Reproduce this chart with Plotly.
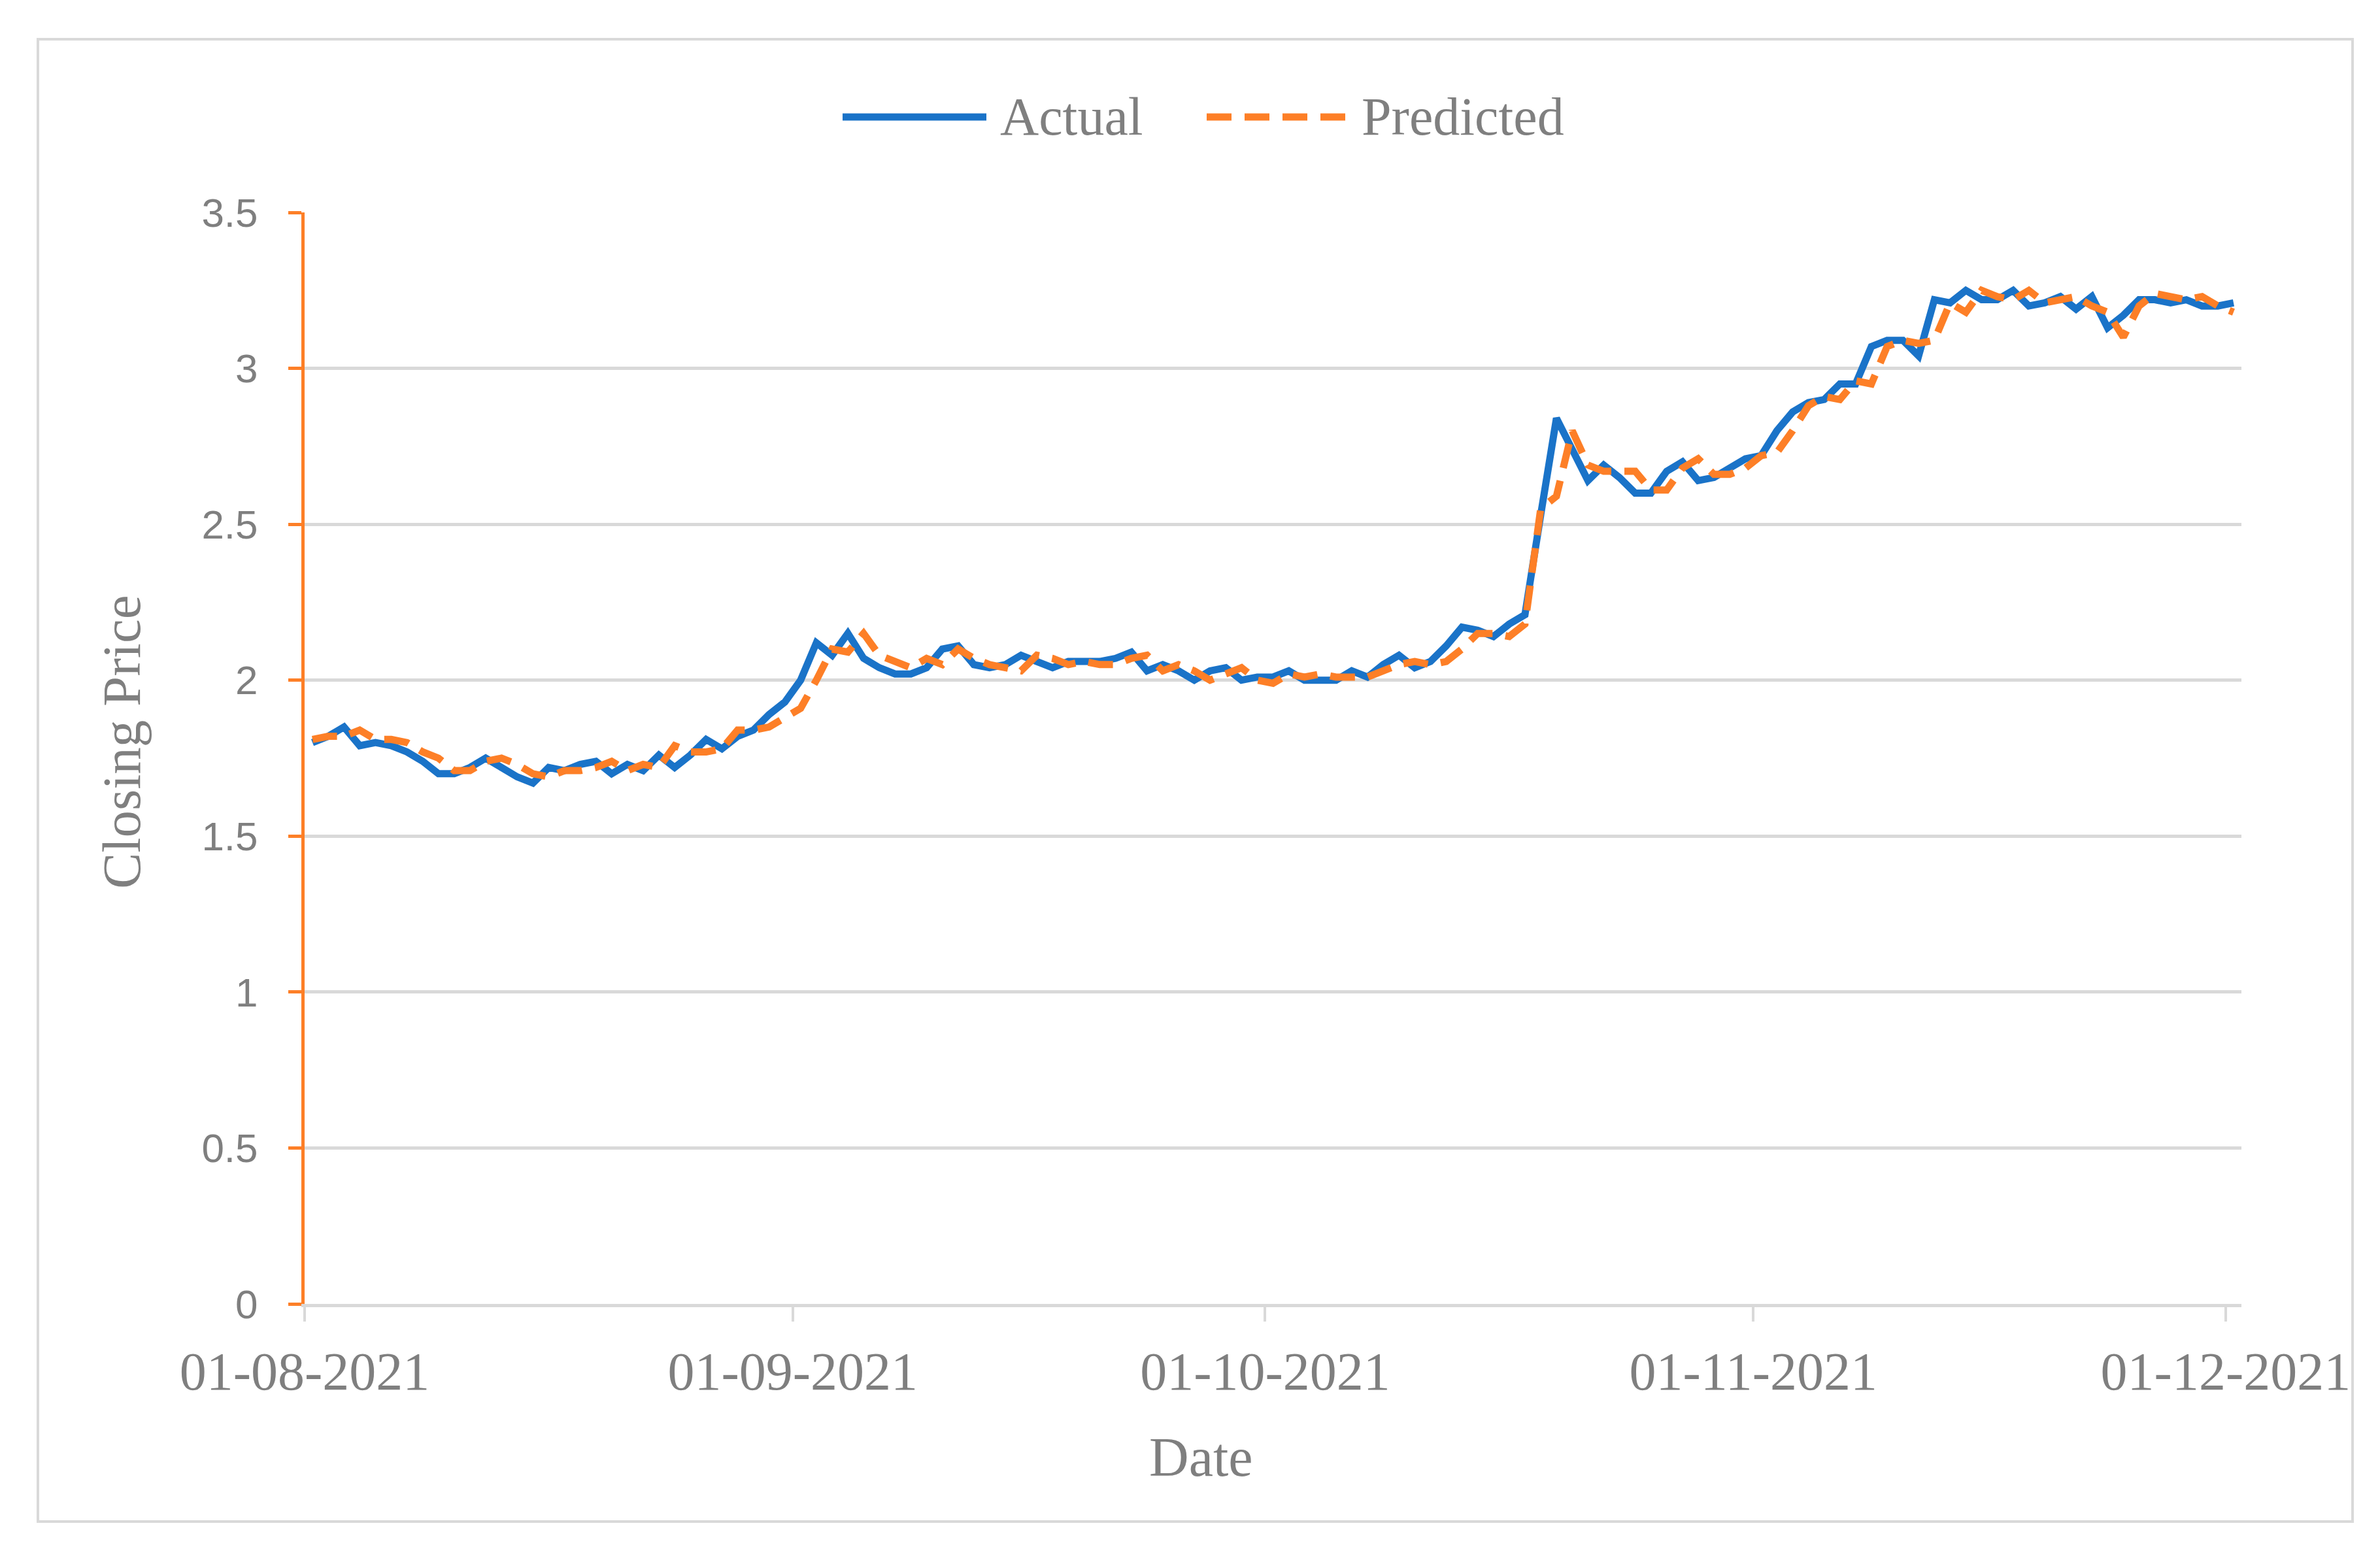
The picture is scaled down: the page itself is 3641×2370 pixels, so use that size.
import pandas as pd
import plotly.graph_objects as go

# ---------------- data ----------------
start_date = "2021-08-01"
actual = [
    1.80, 1.82, 1.85, 1.79, 1.80, 1.79, 1.77, 1.74, 1.70, 1.70,
    1.72, 1.75, 1.72, 1.69, 1.67, 1.72, 1.71, 1.73, 1.74, 1.70,
    1.73, 1.71, 1.76, 1.72, 1.76, 1.81, 1.78, 1.82, 1.84, 1.89,
    1.93, 2.00, 2.12, 2.08, 2.15, 2.07, 2.04, 2.02, 2.02, 2.04,
    2.10, 2.11, 2.05, 2.04, 2.05, 2.08, 2.06, 2.04, 2.06, 2.06,
    2.06, 2.07, 2.09, 2.03, 2.05, 2.03, 2.00, 2.03, 2.04, 2.00,
    2.01, 2.01, 2.03, 2.00, 2.00, 2.00, 2.03, 2.01, 2.05, 2.08,
    2.04, 2.06, 2.11, 2.17, 2.16, 2.14, 2.18, 2.21, 2.53, 2.84,
    2.74, 2.64, 2.69, 2.65, 2.60, 2.60, 2.67, 2.70, 2.64, 2.65,
    2.68, 2.71, 2.72, 2.80, 2.86, 2.89, 2.90, 2.95, 2.95, 3.07,
    3.09, 3.09, 3.04, 3.22, 3.21, 3.25, 3.22, 3.22, 3.25, 3.20,
    3.21, 3.23, 3.19, 3.23, 3.13, 3.17, 3.22, 3.22, 3.21, 3.22,
    3.20, 3.20, 3.21,
]
predicted = [
    1.81, 1.82, 1.82, 1.84, 1.81, 1.81, 1.80, 1.77, 1.75, 1.71,
    1.71, 1.74, 1.75, 1.73, 1.70, 1.69, 1.71, 1.71, 1.72, 1.74,
    1.71, 1.73, 1.72, 1.79, 1.77, 1.77, 1.78, 1.84, 1.84, 1.85,
    1.88, 1.91, 2.00, 2.10, 2.09, 2.15, 2.08, 2.06, 2.04, 2.07,
    2.05, 2.10, 2.07, 2.05, 2.04, 2.03, 2.08, 2.07, 2.05, 2.06,
    2.05, 2.05, 2.07, 2.08, 2.03, 2.05, 2.03, 2.00, 2.02, 2.04,
    2.00, 1.99, 2.02, 2.01, 2.02, 2.01, 2.01, 2.01, 2.03, 2.05,
    2.06, 2.05, 2.06, 2.10, 2.15, 2.15, 2.14, 2.18, 2.55, 2.59,
    2.80, 2.69, 2.67, 2.67, 2.67, 2.61, 2.61, 2.68, 2.71, 2.66,
    2.66, 2.68, 2.72, 2.73, 2.80, 2.88, 2.91, 2.90, 2.96, 2.95,
    3.07, 3.09, 3.08, 3.09, 3.21, 3.18, 3.25, 3.23, 3.22, 3.25,
    3.21, 3.22, 3.23, 3.20, 3.18, 3.10, 3.20, 3.24, 3.23, 3.22,
    3.23, 3.20, 3.18,
]
dates = pd.date_range(start_date, periods=len(actual), freq="D")
series_names = ["Actual", "Predicted"]
x_range = ["2021-08-01", "2021-12-02"]
y_ticks = [0, 0.5, 1, 1.5, 2, 2.5, 3, 3.5]

# ---------------- style ----------------
BLUE = "#1A73C8"
ORANGE = "#FD7F27"
GRID = "#D9D9D9"
TXT = "#7F7F7F"
SERIF = "Liberation Serif, Times New Roman, serif"
SANS = "Liberation Sans, Arial, sans-serif"
DASH = "38px,20px"

W, H = 3641, 2370
L, R, T, B = 466, 212, 325, 375
PW, PH = W - L - R, H - T - B


def px_x(p):
    return (p - L) / PW


def px_y(p):
    return (H - B - p) / PH


fig = go.Figure()
fig.add_trace(go.Scatter(
    x=dates, y=actual, name=series_names[0], mode="lines",
    xperiod=86400000, xperiodalignment="middle",
    line=dict(color=BLUE, width=11), showlegend=False,
))
fig.add_trace(go.Scatter(
    x=dates, y=predicted, name=series_names[1], mode="lines",
    xperiod=86400000, xperiodalignment="middle",
    line=dict(color=ORANGE, width=11, dash=DASH), showlegend=False,
))

fig.update_layout(
    width=W, height=H,
    margin=dict(l=L, r=R, t=T, b=B, autoexpand=False),
    paper_bgcolor="white", plot_bgcolor="white",
    font=dict(family=SERIF, color=TXT),
)

fig.update_xaxes(
    type="date", range=x_range,
    tick0="2021-08-01", dtick="M1", tickformat="%d-%m-%Y",
    ticks="outside", ticklen=22, tickwidth=4, tickcolor=GRID,
    showline=True, linecolor=GRID, linewidth=5,
    showgrid=False, zeroline=False,
    tickfont=dict(family=SERIF, size=82, color=TXT),
    ticklabelstandoff=6,
)
fig.update_yaxes(
    range=[0, 3.5], tickvals=y_ticks,
    ticks="outside", ticklen=20, tickwidth=5, tickcolor=ORANGE,
    showline=True, linecolor=ORANGE, linewidth=5,
    showgrid=True, gridcolor=GRID, gridwidth=5,
    zeroline=False,
    tickfont=dict(family=SANS, size=62, color=TXT),
    ticklabelstandoff=34,
)

shapes = [
    # chart-area border
    dict(type="rect", xref="paper", yref="paper",
         x0=px_x(58), x1=px_x(3599), y0=px_y(2328), y1=px_y(60),
         line=dict(color=GRID, width=4), fillcolor="rgba(0,0,0,0)", layer="below"),
    # legend samples
    dict(type="line", xref="paper", yref="paper",
         x0=px_x(1289), x1=px_x(1509), y0=px_y(179), y1=px_y(179),
         line=dict(color=BLUE, width=11)),
    dict(type="line", xref="paper", yref="paper",
         x0=px_x(1846), x1=px_x(2060), y0=px_y(179), y1=px_y(179),
         line=dict(color=ORANGE, width=11, dash=DASH)),
]
annotations = [
    dict(text=series_names[0], xref="paper", yref="paper", x=px_x(1528), y=px_y(179),
         xanchor="left", yanchor="middle", showarrow=False,
         font=dict(family=SERIF, size=82, color=TXT)),
    dict(text=series_names[1], xref="paper", yref="paper", x=px_x(2081), y=px_y(179),
         xanchor="left", yanchor="middle", showarrow=False,
         font=dict(family=SERIF, size=82, color=TXT)),
    dict(text="Date", xref="paper", yref="paper", x=px_x(1837), y=px_y(2229),
         xanchor="center", yanchor="middle", showarrow=False,
         font=dict(family=SERIF, size=84, color=TXT)),
    dict(text="Closing Price", xref="paper", yref="paper", x=px_x(186), y=px_y(1135),
         xanchor="center", yanchor="middle", showarrow=False, textangle=-90,
         font=dict(family=SERIF, size=83, color=TXT)),
]
fig.update_layout(shapes=shapes, annotations=annotations)

fig.write_html(
    "out.html",
    config={"displayModeBar": False},
    post_script="document.body.style.margin='0';document.body.style.padding='0';",
)
